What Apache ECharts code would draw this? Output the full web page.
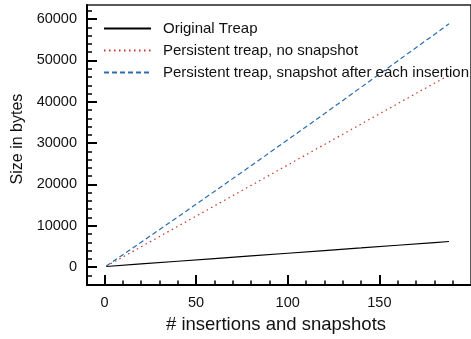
<!DOCTYPE html>
<html>
<head>
<meta charset="utf-8">
<script src="https://cdn.jsdelivr.net/npm/echarts@6/dist/echarts.min.js"></script>
<style>
  html, body { margin: 0; padding: 0; background: #fff; }
  #chart { width: 471px; height: 339px; }
</style>
</head>
<body>
<div id="chart"></div>
<script>
// number of insertions (x) and size in bytes for each variant
var insertions = [1, 20, 40, 60, 80, 100, 120, 140, 160, 180, 188];
var originalTreap = [130, 750, 1400, 2050, 2700, 3340, 3990, 4630, 5280, 5920, 6180];
var persistentNoSnap = [200, 4900, 9850, 14800, 19750, 24700, 29650, 34600, 39550, 44500, 46400];
var persistentSnapEach = [250, 6000, 12100, 18300, 24500, 30800, 37100, 43500, 49900, 56300, 58900];

var seriesNames = ['Original Treap', 'Persistent treap, no snapshot', 'Persistent treap, snapshot after each insertion'];

// tick labels / tick positions
var xMajorTicks = [0, 50, 100, 150];
var xMinorTicks = [10, 20, 30, 40, 60, 70, 80, 90, 110, 120, 130, 140, 160, 170, 180, 190];
var yMajorTicks = [0, 10000, 20000, 30000, 40000, 50000, 60000];
var yMinorTicks = [-2000, 2000, 4000, 6000, 8000, 12000, 14000, 16000, 18000, 22000, 24000, 26000, 28000,
  32000, 34000, 36000, 38000, 42000, 44000, 46000, 48000, 52000, 54000, 56000, 58000, 62000];

function pairs(ys) {
  return insertions.map(function (x, i) { return [x, ys[i]]; });
}

var font = '"Liberation Sans", Arial, Helvetica, sans-serif';
var X_MIN = -9.5, X_MAX = 200, Y_MIN = -4370, Y_MAX = 63430;

// extra axes that only draw a set of inward ticks
function tickAxis(min, max, pos, values, len, width) {
  return {
    type: 'value',
    min: min, max: max,
    position: pos,
    axisLine: { show: false, onZero: false },
    axisTick: { show: true, inside: true, length: len, lineStyle: { color: '#000', width: width }, customValues: values },
    axisLabel: { show: false },
    splitLine: { show: false }
  };
}

var chart = echarts.init(document.getElementById('chart'), null, { renderer: 'canvas' });

var option = {
  animation: false,
  backgroundColor: '#ffffff',
  textStyle: { fontFamily: font, color: '#111' },
  grid: {
    left: 87, right: -10, top: 5, bottom: 51,
    show: true, borderColor: '#222', borderWidth: 1.5
  },
  legend: {
    orient: 'vertical',
    left: 103, top: 21, padding: 0,
    itemWidth: 47, itemHeight: 14, itemGap: 7,
    itemStyle: { opacity: 0 },
    textStyle: { fontSize: 15, color: '#111', fontFamily: font, padding: [0, 0, 0, 7] },
    data: seriesNames
  },
  xAxis: [{
    type: 'value',
    min: X_MIN, max: X_MAX,
    position: 'bottom',
    name: '# insertions and snapshots',
    nameLocation: 'middle',
    nameGap: 28,
    nameTextStyle: { fontSize: 18.5, color: '#111', fontFamily: font, padding: [0, 6, 0, 0] },
    axisLine: { show: true, onZero: false, lineStyle: { color: '#000', width: 2 } },
    axisTick: { show: false },
    axisLabel: { fontSize: 14.5, color: '#111', margin: 10, customValues: xMajorTicks,
      formatter: function (v) { return String(v); } },
    splitLine: { show: false }
  },
  tickAxis(X_MIN, X_MAX, 'bottom', xMajorTicks, 10, 2),
  tickAxis(X_MIN, X_MAX, 'bottom', xMinorTicks, 4.5, 1.5)],
  yAxis: [{
    type: 'value',
    min: Y_MIN, max: Y_MAX,
    position: 'left',
    name: 'Size in bytes',
    nameLocation: 'middle',
    nameGap: 60,
    nameTextStyle: { fontSize: 16, color: '#111', fontFamily: font, padding: [0, 0, 0, 12] },
    axisLine: { show: true, onZero: false, lineStyle: { color: '#000', width: 2 } },
    axisTick: { show: false },
    axisLabel: { fontSize: 14.5, color: '#111', margin: 10, customValues: yMajorTicks,
      formatter: function (v) { return String(v); } },
    splitLine: { show: false }
  },
  tickAxis(Y_MIN, Y_MAX, 'left', yMajorTicks, 10, 2),
  tickAxis(Y_MIN, Y_MAX, 'left', yMinorTicks, 5, 1.5)],
  series: [{
    name: seriesNames[0],
    type: 'line',
    symbol: 'none',
    data: pairs(originalTreap),
    lineStyle: { color: '#000', width: 1.2, type: 'solid' },
    itemStyle: { color: '#000' }
  }, {
    name: seriesNames[1],
    type: 'line',
    symbol: 'none',
    data: pairs(persistentNoSnap),
    lineStyle: { color: '#c8372d', width: 1.2, type: [1.5, 3.5] },
    itemStyle: { color: '#c8372d' }
  }, {
    name: seriesNames[2],
    type: 'line',
    symbol: 'none',
    data: pairs(persistentSnapEach),
    lineStyle: { color: '#2b6cb0', width: 1.2, type: [5, 3] },
    itemStyle: { color: '#2b6cb0' }
  }]
};

chart.setOption(option);
</script>
</body>
</html>
